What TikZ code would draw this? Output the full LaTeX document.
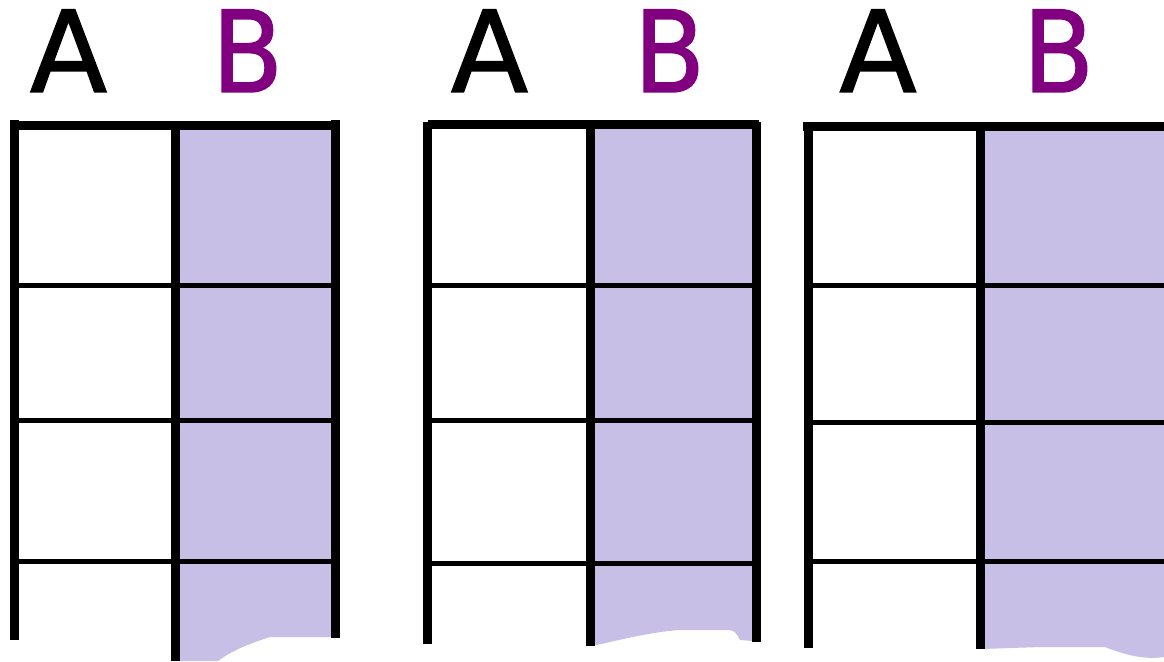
\documentclass[tikz,border=0pt]{standalone}
\usepackage{fontspec}
\setmainfont{DejaVu Sans}
\newfontfamily\lblfont[BoldFont=DejaVu Sans, BoldFeatures={FakeBold=1.3}]{DejaVu Sans}
\definecolor{lav}{RGB}{199,191,230}
\definecolor{plum}{RGB}{128,0,128}
\begin{document}
\begin{tikzpicture}[x=1pt,y=-1pt,
  thick line/.style={line width=9pt,line cap=butt},
  thin line/.style={line width=5pt,line cap=butt},
  lab/.style={inner sep=0pt,anchor=base,font=\lblfont\bfseries\fontsize{113}{113}\selectfont},
  labA/.style={lab,text=black},
  labB/.style={lab,text=plum,xscale=0.92}]
\useasboundingbox (0,0) rectangle (1164,661);
\fill[white] (0,0) rectangle (1164,661);

% ---- fills
\fill[lav] (180,129) -- (331,129) -- (331,637) -- (270,637) .. controls (245,645) and (230,652) .. (218,661) -- (180,661) -- cycle;
\fill[lav] (592,129) -- (753,129) -- (753,641) -- (740,640) .. controls (736,632) and (734,630) .. (727,630) -- (680,630) .. controls (650,632) and (620,640) .. (592,646) -- cycle;
\fill[lav] (982,129) -- (1164,129) -- (1164,657) .. controls (1145,660) and (1125,655) .. (1105,647) -- (1040,647) -- (982,649) -- cycle;

% ---- table 1
\draw[thin line] (15,285.5) -- (335,285.5);
\draw[thin line] (15,420.5) -- (335,420.5);
\draw[thin line] (15,561.5) -- (335,561.5);
\draw[thick line] (14.5,120) -- (14.5,640);
\draw[thick line] (175.5,125) -- (175.5,661);
\draw[thick line] (335,120) -- (335,638);
\draw[thick line] (10,125) -- (340,125);

% ---- table 2
\draw[thin line] (424,285.5) -- (757,285.5);
\draw[thin line] (428,420.5) -- (757,420.5);
\draw[thin line] (428,563) -- (757,563);
\draw[thick line] (427.5,122) -- (427.5,644);
\draw[thick line] (590,127) -- (590,646);
\draw[thick line] (756.5,122) -- (756.5,642);
\draw[thick line] (428,124.5) -- (759,124.5);

% ---- table 3
\draw[thin line] (808,285.5) -- (1164,285.5);
\draw[thin line] (808,422) -- (1164,422);
\draw[thin line] (808,561.5) -- (1164,561.5);
\draw[thick line] (808,122) -- (808,648);
\draw[thick line] (980.5,126) -- (980.5,649);
\draw[thick line] (803,126.5) -- (1164,126.5);

% ---- labels
\node[labA] (a1) at (68.5,92) {A};
\node[labB] (b1) at (247.5,92) {B};
\node[labA] (a2) at (489.5,92) {A};
\node[labB] (b2) at (669.5,92) {B};
\node[labA] (a3) at (878,92) {A};
\node[labB] (b3) at (1058.5,92) {B};
\end{tikzpicture}
\end{document}
